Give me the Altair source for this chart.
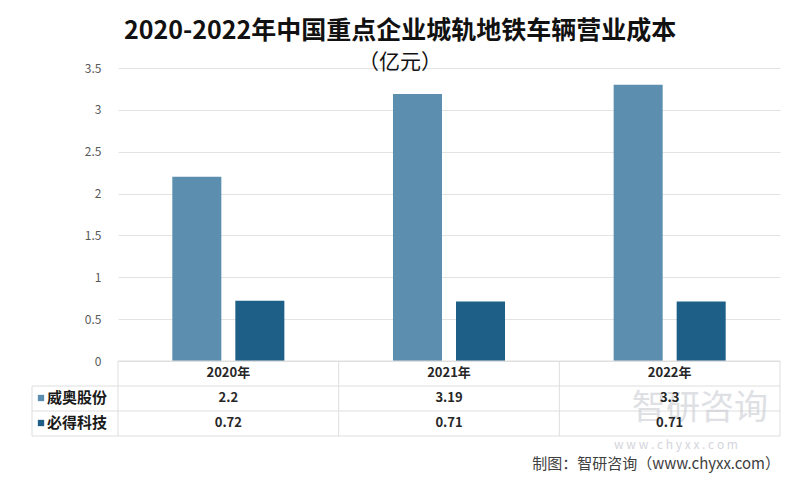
import altair as alt
import pandas as pd

years = ["2020年", "2021年", "2022年"]
companies = ["威奥股份", "必得科技"]
weiao = [2.2, 3.19, 3.3]
bide = [0.72, 0.71, 0.71]
value_labels = {"威奥股份": ["2.2", "3.19", "3.3"], "必得科技": ["0.72", "0.71", "0.71"]}
colors = ["#5b8eaf", "#1d5f87"]
title_lines = ["2020-2022年中国重点企业城轨地铁车辆营业成本", "（亿元）"]
source_text = "制图：智研咨询（www.chyxx.com）"

FONT = "Noto Sans CJK SC"

rows = []
for c, vals in zip(companies, [weiao, bide]):
    for y, v, lab in zip(years, vals, value_labels[c]):
        rows.append({"year": y, "company": c, "value": v, "label": lab})
df = pd.DataFrame(rows)
years_df = pd.DataFrame({"year": years})
comp_df = pd.DataFrame({"company": companies})
one = pd.DataFrame({"k": [0]})

W, H = 662, 293

xscale = alt.Scale(domain=years, paddingInner=0, paddingOuter=0)
cscale = alt.Scale(domain=companies, range=colors)

bars = alt.Chart(df).mark_bar().encode(
    x=alt.X("year:N", scale=xscale, axis=None),
    xOffset=alt.XOffset("company:N", scale=alt.Scale(domain=companies, paddingInner=0.222, paddingOuter=0.862)),
    y=alt.Y("value:Q", scale=alt.Scale(domain=[0, 3.5]),
            axis=alt.Axis(values=[0, 0.5, 1, 1.5, 2, 2.5, 3, 3.5], labelExpr="'' + datum.value",
                          domain=False, ticks=False, labelPadding=17, labelFont=FONT,
                          labelFontSize=12, labelColor="#595959", gridColor="#e3e3e3",
                          title=None)),
    color=alt.Color("company:N", scale=cscale, legend=None),
)

line_color = "#dedede"
hlines = []
hlines.append(alt.Chart(one).mark_rule(color=line_color, strokeWidth=1).encode(
    x=alt.value(0), x2=alt.value(W), y=alt.value(H)))
for yy in [318, 343, 368]:
    hlines.append(alt.Chart(one).mark_rule(color=line_color, strokeWidth=1).encode(
        x=alt.value(-86), x2=alt.value(W), y=alt.value(yy)))
vlines = alt.Chart(years_df).mark_rule(color=line_color, strokeWidth=1).encode(
    x=alt.X("year:N", scale=xscale, bandPosition=0), y=alt.value(H), y2=alt.value(368))
vright = alt.Chart(one).mark_rule(color=line_color, strokeWidth=1).encode(
    x=alt.value(W), y=alt.value(H), y2=alt.value(368))
vleft = alt.Chart(one).mark_rule(color=line_color, strokeWidth=1).encode(
    x=alt.value(-86), y=alt.value(318), y2=alt.value(368))

header = alt.Chart(years_df).mark_text(font=FONT, fontSize=13, fontWeight="bold", color="#262626").encode(
    x=alt.X("year:N", scale=xscale), y=alt.value(305), text="year:N")

cells = []
for c, yy in zip(companies, [330, 355]):
    cells.append(alt.Chart(df[df.company == c]).mark_text(font=FONT, fontSize=13, fontWeight="bold",
                                                          color="#262626").encode(
        x=alt.X("year:N", scale=xscale), y=alt.value(yy), text="label:N"))

row_labels = []
for i, (c, yy) in enumerate(zip(companies, [330, 355])):
    d = comp_df[comp_df.company == c]
    row_labels.append(alt.Chart(d).mark_square(size=40, opacity=1).encode(
        x=alt.value(-77), y=alt.value(yy),
        color=alt.Color("company:N", scale=cscale, legend=None)))
    row_labels.append(alt.Chart(d).mark_text(font=FONT, fontSize=15, fontWeight="bold", align="left",
                                             color="#1a1a1a").encode(
        x=alt.value(-71), y=alt.value(yy), text="company:N"))

title_df = pd.DataFrame({"t": title_lines, "i": [0, 1]})
title1 = alt.Chart(title_df[title_df.i == 0]).mark_text(font=FONT, fontSize=25, fontWeight="bold",
                                                         color="#111111").encode(
    x=alt.value(282), y=alt.value(-37), text="t:N")
title2 = alt.Chart(title_df[title_df.i == 1]).mark_text(font=FONT, fontSize=21, fontWeight="normal",
                                                         color="#111111").encode(
    x=alt.value(282), y=alt.value(-5), text="t:N")

wm_df = pd.DataFrame({"t": ["智研咨询"]})
wm = alt.Chart(wm_df).mark_text(font=FONT, fontSize=34, color="#c9ccd3", opacity=0.6).encode(
    x=alt.value(582), y=alt.value(341), text="t:N")
wm2_df = pd.DataFrame({"t": ["w w w . c h y x x . c o m"]})
wm2 = alt.Chart(wm2_df).mark_text(font=FONT, fontSize=12, color="#c9ccd3", opacity=0.8).encode(
    x=alt.value(558), y=alt.value(377), text="t:N")

src_df = pd.DataFrame({"t": [source_text]})
src = alt.Chart(src_df).mark_text(font=FONT, fontSize=15, color="#404040", align="right").encode(
    x=alt.value(W), y=alt.value(396), text="t:N")

chart = alt.layer(
    bars, *hlines, vlines, vright, vleft, wm, wm2, header, *cells, *row_labels, title1, title2, src
).properties(
    width=W, height=H,
    padding={"left": 110, "top": 60, "right": 12, "bottom": 116},
    autosize=alt.AutoSizeParams(type="none"),
).configure_view(stroke=None).configure_axis(grid=True)

chart.save("out.html", embed_options={"renderer": "svg", "actions": False})
